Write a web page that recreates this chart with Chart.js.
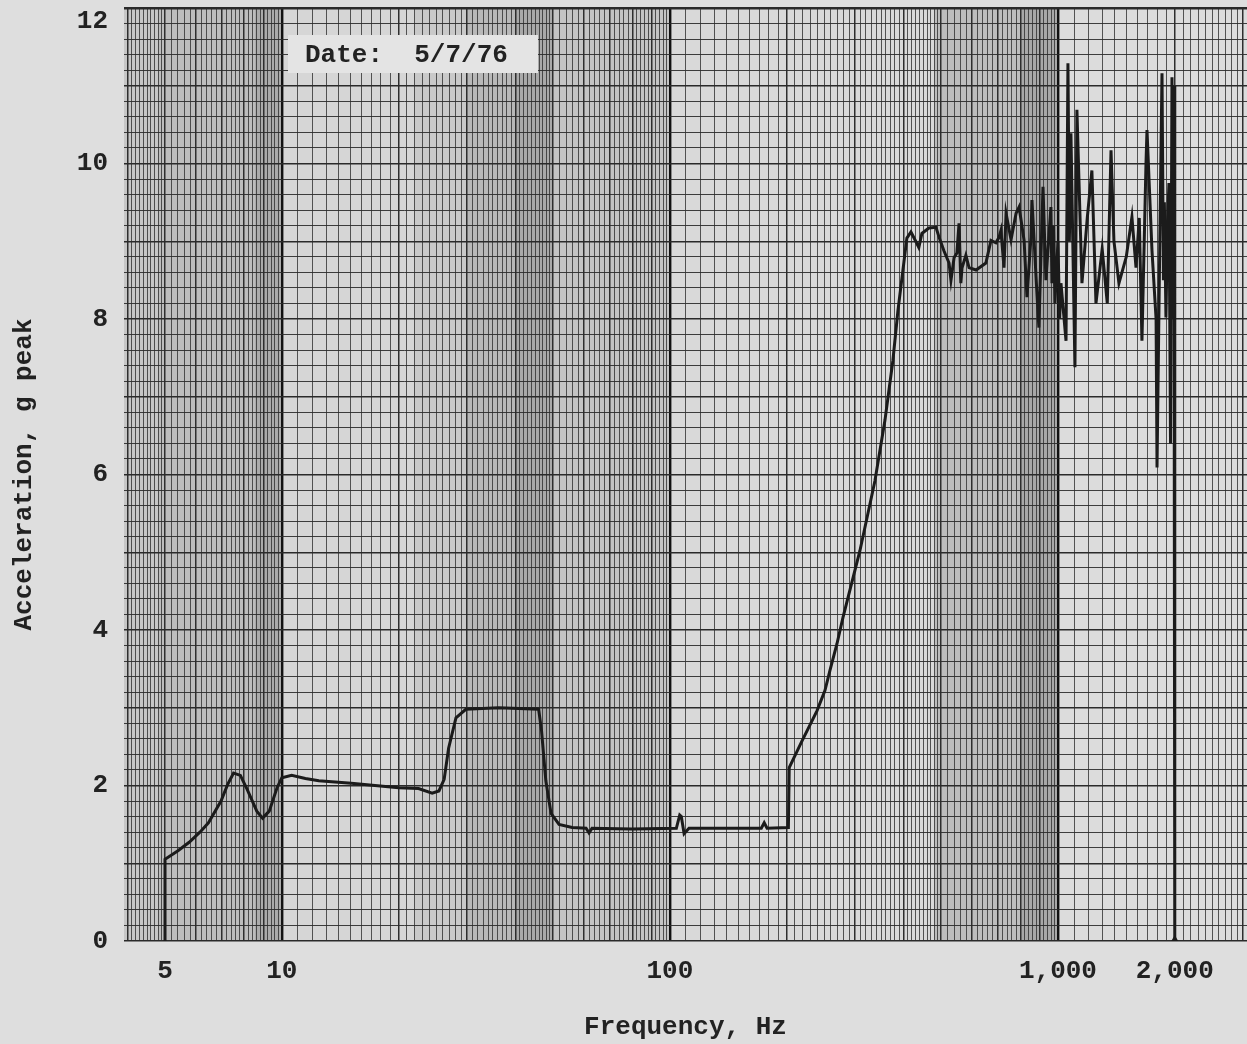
<!DOCTYPE html>
<html>
<head>
<meta charset="utf-8">
<script src="https://cdn.jsdelivr.net/npm/chart.js@4.4.1/dist/chart.umd.min.js"></script>
<style>
  html, body { margin: 0; padding: 0; background: #dedede; overflow: hidden; }
  canvas { display: block; }
</style>
</head>
<body>
<canvas id="myChart" width="1247" height="1044"></canvas>
<script>
// valori (Hz, g peak)
const freqHz = [
  5, 5, 5.4, 5.77, 6.15, 6.47, 6.97, 7.26, 7.51, 7.82,
  8.14, 8.62, 8.92, 9.28, 9.72, 10, 10.6, 11.5, 12.45, 15.1,
  20.0, 22.5, 24.4, 25.4, 26.2, 26.9, 28.1, 29.8, 36.2, 45.9,
  46.7, 47.9, 49.4, 51.8, 56.0, 60.8, 61.9, 63.0, 80.0, 103.9,
  106, 107, 108.8, 112, 140, 172, 175, 178, 202, 203,
  218.9, 239.3, 250.9, 258.5, 269.4, 279.2, 308.8, 337.6, 358.3, 375.6,
  387, 398.6, 408, 418, 430, 438, 446, 465, 485, 494,
  508, 524, 530, 540, 549, 556, 562, 566, 579, 590,
  615, 652, 672, 692, 705, 713, 726, 735, 757, 780,
  794, 818, 832, 852, 857, 878, 893, 915, 931, 959,
  965, 975, 982, 990, 1000, 1010, 1018, 1049, 1061, 1070,
  1080, 1106, 1119, 1153, 1190, 1223, 1253, 1300, 1340, 1370,
  1394, 1436, 1500, 1551, 1589, 1620, 1646, 1686, 1696, 1747,
  1790, 1800, 1830, 1854, 1870, 1880, 1898, 1915, 1932, 1950,
  1967, 1975, 1985, 1991, 2000, 2000
];
const accelG = [
  0, 1.05, 1.16, 1.27, 1.40, 1.52, 1.80, 2.02, 2.16, 2.13,
  1.95, 1.67, 1.58, 1.67, 1.97, 2.10, 2.13, 2.09, 2.06, 2.03,
  1.97, 1.96, 1.90, 1.93, 2.08, 2.48, 2.87, 2.98, 3.00, 2.98,
  2.70, 2.06, 1.64, 1.50, 1.46, 1.45, 1.39, 1.45, 1.44, 1.45,
  1.62, 1.60, 1.38, 1.45, 1.45, 1.45, 1.52, 1.45, 1.46, 2.23,
  2.57, 2.96, 3.22, 3.48, 3.82, 4.16, 5.02, 5.92, 6.70, 7.47,
  8.11, 8.63, 9.04, 9.12, 9.00, 8.92, 9.10, 9.17, 9.18, 9.05,
  8.88, 8.72, 8.50, 8.79, 8.85, 9.23, 8.46, 8.66, 8.82, 8.66,
  8.63, 8.72, 9.01, 8.98, 9.05, 9.14, 8.66, 9.36, 9.02, 9.36,
  9.44, 9.01, 8.28, 9.05, 9.53, 8.54, 7.89, 9.70, 8.50, 9.44,
  8.46, 9.20, 8.20, 8.55, 9.00, 8.00, 8.46, 7.72, 11.29, 9.00,
  10.39, 7.38, 10.69, 8.46, 9.30, 9.91, 8.20, 8.90, 8.20, 10.17,
  9.00, 8.46, 8.80, 9.31, 8.66, 9.30, 7.72, 10.00, 10.43, 8.88,
  8.00, 6.09, 9.00, 11.16, 8.50, 9.50, 8.02, 9.20, 9.75, 6.40,
  11.11, 8.00, 10.50, 9.60, 11.00, 0
];

const xLabels = {5: '5', 10: '10', 100: '100', 1000: '1,000', 2000: '2,000'};
const yLabelStep = 2;
const dateText = 'Date:  5/7/76';

const ctx = document.getElementById('myChart').getContext('2d');
const tickFont = { family: "'Liberation Mono', 'Courier New', monospace", size: 26, weight: 'bold' };

// griglia della carta logaritmica: 1-2 e 2-5 passo 0.1, 5-10 passo 0.2
function logPaperTicks(min, max) {
    const out = [];
    for (let d = 1; d <= 1000; d *= 10) {
        for (let k = 100; k < 1000; k += (k < 500 ? 10 : 20)) {
            const v = k * d / 100;
            if (v >= min && v <= max) out.push({ value: v });
        }
    }
    return out;
}

function mantissa(v) {
    const p = Math.pow(10, Math.floor(Math.log10(v) + 1e-9));
    return v / p;
}

// sfondo tipo carta fotocopiata
const paper = {
    id: 'paper',
    beforeDraw(chart) {
        const c = chart.ctx, a = chart.chartArea, xs = chart.scales.x;
        c.save();
        c.fillStyle = '#dedede';
        c.fillRect(0, 0, chart.width, chart.height);
        const bands = [
            [3.9, 4.8, '#c6c6c6'], [4.8, 8.5, '#bdbdbd'], [8.5, 10, '#ababab'],
            [10, 22, '#d6d6d6'], [22, 30, '#c9c9c9'], [30, 40, '#b8b8b8'], [40, 50, '#a9a9a9'],
            [50, 100, '#c4c4c4'], [100, 480, '#d9d9d9'], [480, 800, '#bdbdbd'],
            [800, 1000, '#a8a8a8'], [1000, 4000, '#dcdcdc']
        ];
        bands.forEach(b => {
            const x1 = Math.max(a.left, xs.getPixelForValue(b[0]));
            const x2 = Math.min(a.right, xs.getPixelForValue(b[1]));
            c.fillStyle = b[2];
            c.fillRect(x1, a.top, x2 - x1, a.bottom - a.top);
        });
        c.restore();
    },
    beforeDatasetsDraw(chart) {
        const c = chart.ctx, a = chart.chartArea;
        c.save();
        c.fillStyle = '#e4e4e4';
        c.fillRect(a.left + 164, a.top + 27, 250, 38);
        c.font = "bold 26px 'Liberation Mono', 'Courier New', monospace";
        c.fillStyle = '#222';
        c.textBaseline = 'middle';
        c.fillText(dateText, a.left + 181, a.top + 47);
        c.restore();
    }
};

const myChart = new Chart(ctx, {
    type: 'line',
    data: {
        datasets: [{
            data: freqHz.map((f, i) => ({ x: f, y: accelG[i] })),
            borderColor: '#1b1b1b',
            borderWidth: 3,
            tension: 0,
            fill: false,
            pointRadius: c => c.dataIndex === freqHz.length - 1 ? 6 : 0,
            pointStyle: 'triangle',
            pointBackgroundColor: '#1b1b1b',
            pointBorderWidth: 0
        }]
    },
    plugins: [paper],
    options: {
        responsive: false,
        animation: false,
        layout: { autoPadding: false, padding: { top: 8, left: 0, right: 0, bottom: 0 } },
        plugins: { legend: { display: false }, tooltip: { enabled: false } },
        scales: {
            x: {
                type: 'logarithmic',
                min: 3.92,
                max: 3070,
                afterBuildTicks: s => { s.ticks = logPaperTicks(s.min, s.max); },
                afterFit: s => { s.height = 103; s.paddingLeft = 0; s.paddingRight = 0; },
                border: { display: false },
                grid: {
                    drawTicks: false,
                    color: c => {
                        const m = mantissa(c.tick.value);
                        return Math.abs(m - 1) < 1e-6 ? '#111' : '#2e2e2e';
                    },
                    lineWidth: c => {
                        const m = mantissa(c.tick.value);
                        if (Math.abs(m - 1) < 1e-6) return 2.4;
                        if (Math.abs(m - Math.round(m)) < 1e-6) return 1.5;
                        return 0.8;
                    }
                },
                ticks: {
                    autoSkip: false,
                    maxRotation: 0,
                    minRotation: 0,
                    padding: 15,
                    color: '#222',
                    font: tickFont,
                    callback: v => {
                        for (const k in xLabels) {
                            if (Math.abs(v - k) < 1e-6) return xLabels[k];
                        }
                        return '';
                    }
                },
                title: {
                    display: true,
                    text: 'Frequency, Hz',
                    color: '#222',
                    font: tickFont,
                    padding: { top: 0, bottom: 1 }
                }
            },
            y: {
                min: 0,
                max: 12,
                afterBuildTicks: s => {
                    const t = [];
                    for (let i = 0; i <= 60; i++) t.push({ value: i / 5 });
                    s.ticks = t;
                },
                afterFit: s => { s.width = 124; s.paddingTop = 0; s.paddingBottom = 0; },
                border: { display: false },
                grid: {
                    drawTicks: false,
                    color: '#2a2a2a',
                    lineWidth: c => {
                        const v = c.tick.value;
                        if (v === 12) return 2.4;
                        return Math.abs(v - Math.round(v)) < 1e-6 ? 1.4 : 0.9;
                    }
                },
                ticks: {
                    autoSkip: false,
                    padding: 16,
                    color: '#222',
                    font: c => c.tick && c.tick.value === 12
                        ? Object.assign({}, tickFont, { lineHeight: 1.0 }) : tickFont,
                    callback: v => {
                        const r = Math.round(v);
                        if (Math.abs(v - r) > 1e-6 || r % yLabelStep !== 0) return '';
                        return r === 12 ? ['', '12'] : String(r);
                    }
                },
                title: {
                    display: true,
                    text: 'Acceleration, g peak',
                    color: '#222',
                    font: tickFont,
                    padding: { top: 9, bottom: 0 }
                }
            }
        }
    }
});
</script>
</body>
</html>
